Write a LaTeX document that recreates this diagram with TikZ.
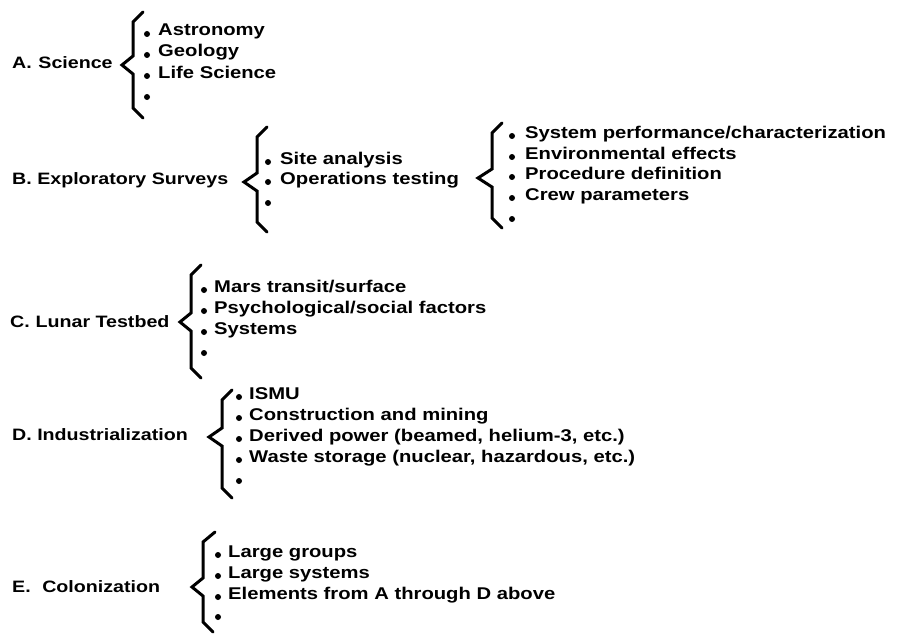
\documentclass[tikz,border=0pt]{standalone}
\usepackage{fontspec}
\newfontfamily\figfont{Liberation Sans}[FakeStretch=1.19]
\usetikzlibrary{positioning}

\begin{document}
\begin{tikzpicture}[x=1pt, y=-1pt,
    lbl/.style={font=\figfont\bfseries\fontsize{16.5}{19}\selectfont,
                anchor=west, inner sep=0pt},
    itm/.style={font=\figfont\bfseries\fontsize{17}{19}\selectfont,
                anchor=base west, inner sep=0pt},
    brc/.style={line width=3pt, line cap=round},
    dot/.style={circle, fill, inner sep=0pt, minimum size=6pt}]
  \useasboundingbox (0,0) rectangle (900,634);

  % ---- A: Science ----
  \node[lbl] (labA) at (12,63) {A.\hspace{0.4em}Science};
  \draw[brc] (143,12) -- (133,22) -- (133,56) -- (122,65) -- (133,74)
             -- (133,108) -- (143,118);
  \foreach \y [count=\i] in {34,55,76,97} {
    \node[dot] (da\i) at (147,\y) {};
  }
  \foreach \y/\t [count=\i] in {36/Astronomy, 57/Geology, 78/Life Science} {
    \node[itm] (a\i) at (158,\y) {\t};
  }

  % ---- B: Exploratory Surveys ----
  \node[lbl] (labB) at (12,180) {B. Exploratory Surveys};
  \draw[brc] (267,127) -- (257,137) -- (257,173) -- (244,182) -- (257,191)
             -- (257,222) -- (267,232);
  \foreach \y [count=\i] in {162,182,203} {
    \node[dot] (db\i) at (268,\y) {};
  }
  \foreach \y/\t [count=\i] in {164/Site analysis, 184/Operations testing} {
    \node[itm] (b\i) at (280,\y) {\t};
  }
  % second level
  \draw[brc] (502,123) -- (492,133) -- (492,169) -- (478,178) -- (492,187)
             -- (492,218) -- (502,228);
  \foreach \y [count=\i] in {136,157,177,198,219} {
    \node[dot] (dbb\i) at (512,\y) {};
  }
  \foreach \y/\t [count=\i] in {138/{System performance/characterization},
                                159/Environmental effects,
                                179/Procedure definition,
                                200/Crew parameters} {
    \node[itm] (bb\i) at (525,\y) {\t};
  }

  % ---- C: Lunar Testbed ----
  \node[lbl] (labC) at (10,322) {C.\hspace{0.35em}Lunar Testbed};
  \draw[brc] (201,265) -- (191,275) -- (191,313) -- (180,322) -- (191,331)
             -- (191,368) -- (201,378);
  \foreach \y [count=\i] in {290,311,332,353} {
    \node[dot] (dc\i) at (204,\y) {};
  }
  \foreach \y/\t [count=\i] in {292/{Mars transit/surface},
                                313/{Psychological/social factors},
                                334/Systems} {
    \node[itm] (c\i) at (214,\y) {\t};
  }

  % ---- D: Industrialization ----
  \node[lbl] (labD) at (12,435) {D. Industrialization};
  \draw[brc] (232,390) -- (222,400) -- (222,428) -- (209,437) -- (222,446)
             -- (222,488) -- (232,498);
  \foreach \y [count=\i] in {397,418,439,460,481} {
    \node[dot] (dd\i) at (239,\y) {};
  }
  \foreach \y/\t [count=\i] in {399/ISMU, 420/Construction and mining,
                                441/{Derived power (beamed, helium-3, etc.)},
                                462/{Waste storage (nuclear, hazardous, etc.)}} {
    \node[itm] (d\i) at (249,\y) {\t};
  }

  % ---- E: Colonization ----
  \node[lbl] (labE) at (12,587) {E.\hspace{0.7em}Colonization};
  \draw[brc] (215,532) -- (203,542) -- (203,578) -- (192,587) -- (203,596)
             -- (203,622) -- (213,632);
  \foreach \y [count=\i] in {555,576,597,617} {
    \node[dot] (de\i) at (218,\y) {};
  }
  \foreach \y/\t [count=\i] in {557/Large groups, 578/Large systems,
                                599/Elements from A through D above} {
    \node[itm] (e\i) at (228,\y) {\t};
  }
\end{tikzpicture}
\end{document}
